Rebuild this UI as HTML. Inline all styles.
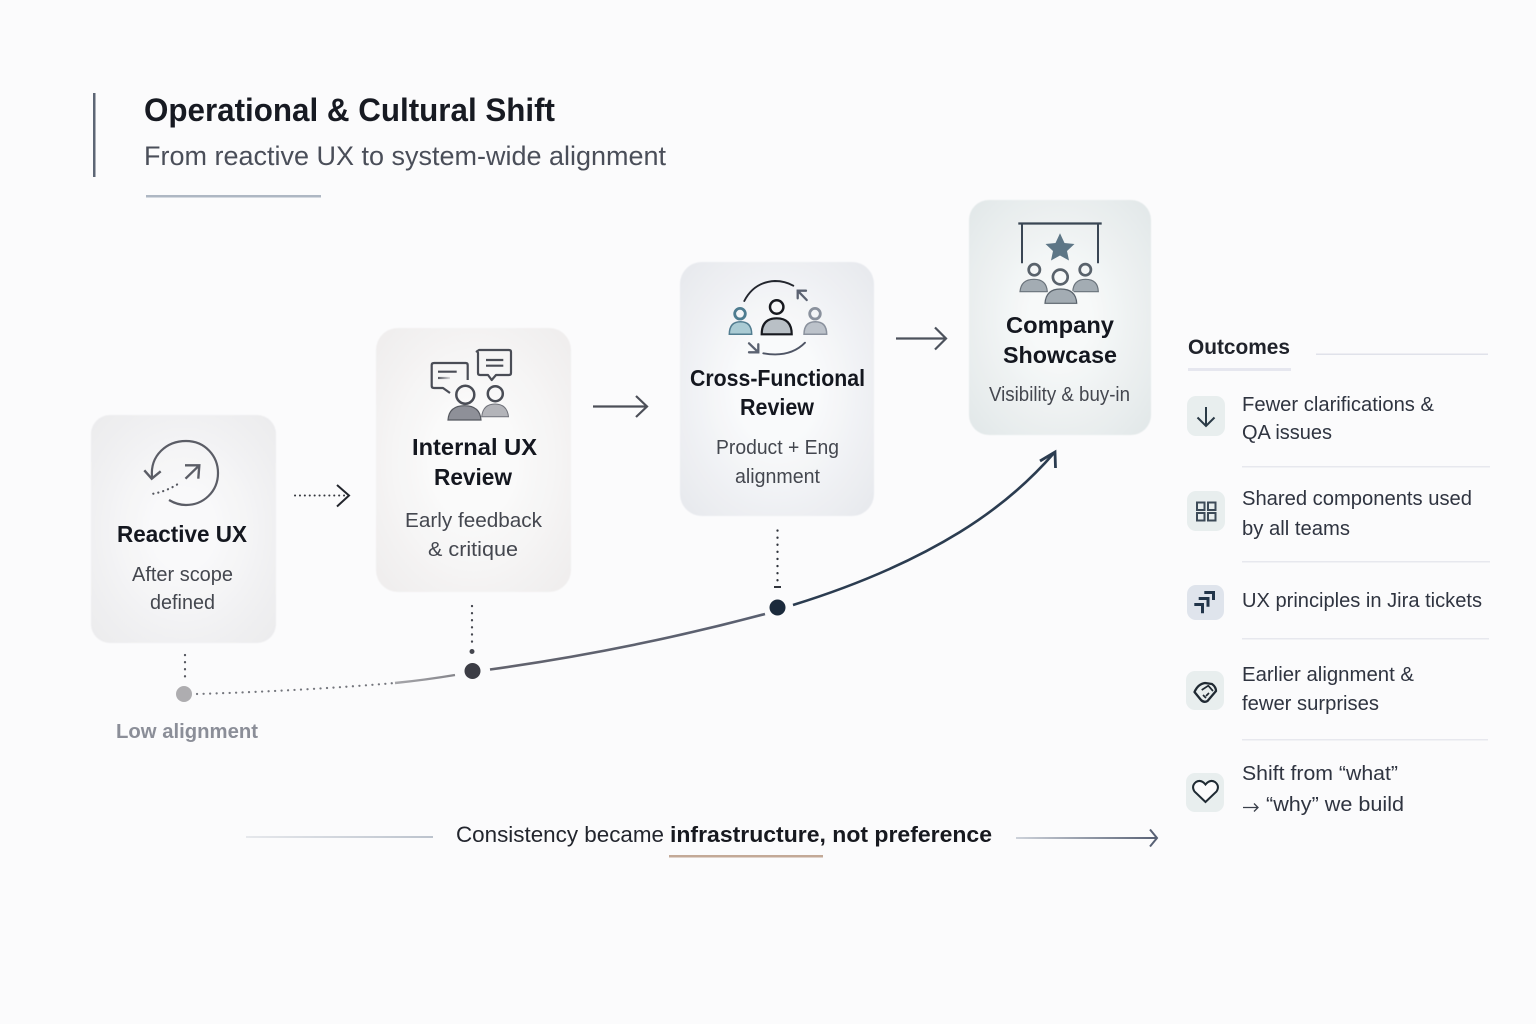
<!DOCTYPE html>
<html><head><meta charset="utf-8"><style>
html,body{margin:0;padding:0;background:#fbfbfc;width:1536px;height:1024px;overflow:hidden}
svg{display:block}
text{font-family:"Liberation Sans",sans-serif;fill:#3f434e;font-size:20px}
.h{font-weight:bold;fill:#14171f;font-size:23px}
.s{font-size:20px;fill:#44474f}
.o{font-size:20px;fill:#2f3440}
</style></head><body>
<svg width="1536" height="1024" viewBox="0 0 1536 1024" xmlns="http://www.w3.org/2000/svg">
<defs>
<radialGradient id="g1" cx=".5" cy=".5" r=".7"><stop offset="0.25" stop-color="#f9f9fa"/><stop offset="1" stop-color="#ebebed"/></radialGradient>
<radialGradient id="g2" cx=".5" cy=".5" r=".7"><stop offset="0.3" stop-color="#fafafa"/><stop offset="1" stop-color="#efeded"/></radialGradient>
<radialGradient id="g3" cx=".5" cy=".5" r=".7"><stop offset="0.3" stop-color="#f9fafb"/><stop offset="1" stop-color="#e6e8ed"/></radialGradient>
<radialGradient id="g4" cx=".5" cy=".5" r=".7"><stop offset="0.25" stop-color="#f7f9f9"/><stop offset="1" stop-color="#e1e7e8"/></radialGradient>
<linearGradient id="fade" gradientUnits="userSpaceOnUse" x1="390" y1="0" x2="455" y2="0"><stop offset="0" stop-color="#a9a9ad"/><stop offset="1" stop-color="#85858b"/></linearGradient>
<linearGradient id="c2" gradientUnits="userSpaceOnUse" x1="490" y1="0" x2="765" y2="0"><stop offset="0" stop-color="#62636e"/><stop offset="1" stop-color="#5a6070"/></linearGradient>
<linearGradient id="l1" x1="0" x2="1" y1="0" y2="0"><stop offset="0" stop-color="#e6e8ec"/><stop offset="1" stop-color="#bcc3cd"/></linearGradient>
<linearGradient id="l2" gradientUnits="userSpaceOnUse" x1="1016" y1="0" x2="1157" y2="0"><stop offset="0" stop-color="#cdd2da"/><stop offset="1" stop-color="#586175"/></linearGradient>
<linearGradient id="lf" gradientUnits="userSpaceOnUse" x1="438" y1="0" x2="450" y2="0"><stop offset="0" stop-color="#55575f"/><stop offset="1" stop-color="#d8d8da"/></linearGradient>
<filter id="soft" x="-5%" y="-5%" width="110%" height="110%"><feGaussianBlur stdDeviation="0.6"/></filter>
</defs>
<rect width="1536" height="1024" fill="#fbfbfc"/>

<!-- header -->
<rect x="93" y="93" width="2.500" height="84" fill="#5d6675"/>
<text x="144" y="121" style="font-size:32px;font-weight:bold;fill:#171a22" textLength="411" lengthAdjust="spacingAndGlyphs">Operational &amp; Cultural Shift</text>
<text x="144" y="165" style="font-size:27px;fill:#4a4e59" textLength="522" lengthAdjust="spacingAndGlyphs">From reactive UX to system-wide alignment</text>
<rect x="146" y="195" width="175" height="2.500" fill="#aeb7c3"/>

<!-- cards -->
<rect x="91" y="415" width="185" height="228" rx="19" fill="url(#g1)" filter="url(#soft)"/>
<rect x="376" y="328" width="195" height="264" rx="22" fill="url(#g2)" filter="url(#soft)"/>
<rect x="680" y="262" width="194" height="254" rx="22" fill="url(#g3)" filter="url(#soft)"/>
<rect x="969" y="200" width="182" height="235" rx="20" fill="url(#g4)" filter="url(#soft)"/>

<!-- card text -->
<text class="h" x="117" y="542" textLength="130" lengthAdjust="spacingAndGlyphs">Reactive UX</text>
<text class="s" x="132" y="581" textLength="101" lengthAdjust="spacingAndGlyphs">After scope</text>
<text class="s" x="150" y="609" textLength="65" lengthAdjust="spacingAndGlyphs">defined</text>

<text class="h" x="412" y="455" textLength="125" lengthAdjust="spacingAndGlyphs">Internal UX</text>
<text class="h" x="434" y="485" textLength="78" lengthAdjust="spacingAndGlyphs">Review</text>
<text class="s" x="405" y="527" textLength="137" lengthAdjust="spacingAndGlyphs">Early feedback</text>
<text class="s" x="428" y="556" textLength="90" lengthAdjust="spacingAndGlyphs">&amp; critique</text>

<text class="h" x="690" y="386" textLength="175" lengthAdjust="spacingAndGlyphs">Cross-Functional</text>
<text class="h" x="740" y="415" textLength="74" lengthAdjust="spacingAndGlyphs">Review</text>
<text class="s" x="716" y="454" textLength="123" lengthAdjust="spacingAndGlyphs">Product + Eng</text>
<text class="s" x="735" y="483" textLength="85" lengthAdjust="spacingAndGlyphs">alignment</text>

<text class="h" x="1006" y="333" textLength="108" lengthAdjust="spacingAndGlyphs">Company</text>
<text class="h" x="1003" y="363" textLength="114" lengthAdjust="spacingAndGlyphs">Showcase</text>
<text class="s" x="989" y="401" textLength="141" lengthAdjust="spacingAndGlyphs">Visibility &amp; buy-in</text>

<!-- icon 1 -->
<g fill="none" stroke="#5b5d66" stroke-width="2.200">
<path d="M152 477 C150 455 167 441 186 441 C205 441 218 456 218 473 C218 492 203 505 186 505 C180 505 174 503 169 500"/>
<path d="M144.300 470.300 L151.700 478.700 L160.700 471.300" stroke-width="2.400"/>
<path d="M153.300 493.700 Q168 491 181 482" stroke-dasharray="0.100 5" stroke-linecap="round" stroke-width="2.200" stroke="#55575f"/>
<path d="M185 465.300 H199.300 L198.300 478.700 M199.300 465.300 L185.500 478.700" stroke-width="2.400"/>
</g>

<!-- icon 2 -->
<g fill="none" stroke="#4a4d56" stroke-width="2.200" stroke-linejoin="round">
<path d="M467.700 380 V365 Q467.700 363 465.700 363 H434 Q431.700 363 431.700 365 V386 Q431.700 388 434 388 H443 L450 393"/>
<path d="M438 371.700 H456.700"/>
<path d="M438 378 H450" stroke="url(#lf)"/>
<path d="M479 350 H509 Q511 350 511 352 V373 Q511 375 509 375 H496 L491.700 380 L488 375 H480 Q478 375 478 373 V353 Q478 352 476.700 351.500 Z"/>
<path d="M486 360 H503.300 M486 365.700 H503.300"/>
<circle cx="465.300" cy="394.700" r="9" stroke-width="2.500"/>
<circle cx="495.300" cy="393.700" r="7.500" stroke-width="2.500"/>
</g>
<path d="M481.700 416.700 Q483 404 495 404 Q507 404 508.500 416.700 Z" fill="#b3b4b9" stroke="#70727a" stroke-width="1"/>
<path d="M448 420 Q449 405.700 464.500 405.700 Q480 405.700 481 420 Z" fill="#8e9098" stroke="#55585f" stroke-width="1.200"/>

<!-- icon 3 -->
<g fill="none" stroke-linecap="round">
<path d="M744.300 301 Q754 282 775 281 Q785 281 793.300 285.700" stroke="#23262e" stroke-width="1.900"/>
<path d="M797.700 298.300 V290.700 H806 M797.700 290.700 L806.700 300" stroke="#5b6271" stroke-width="2.300"/>
<path d="M763.300 353.300 Q790 358 805 342.700" stroke="#4f5565" stroke-width="1.900"/>
<path d="M749 343.300 L758.300 352.300 M758.300 344.300 V352.300 H749" stroke="#5b6271" stroke-width="2.300"/>
<circle cx="776.700" cy="307" r="6.700" stroke="#17191f" stroke-width="2.500"/>
<circle cx="740" cy="313.700" r="5.300" stroke="#4e7c90" stroke-width="2.800"/>
<circle cx="815" cy="313.700" r="5.300" stroke="#8a919d" stroke-width="2.800"/>
</g>
<path d="M761.700 334.300 Q761.700 318.300 776.700 318.300 Q791.700 318.300 791.700 334.300 Z" fill="#b9c0c6" stroke="#17191f" stroke-width="2.200"/>
<path d="M729.300 334.300 Q729.300 321.700 740.500 321.700 Q751.700 321.700 751.700 334.300 Z" fill="#aacbd4" stroke="#527d90" stroke-width="1.500"/>
<path d="M804 334.300 Q804 321.700 815.300 321.700 Q826.700 321.700 826.700 334.300 Z" fill="#bcc2ca" stroke="#8a919d" stroke-width="1.500"/>

<!-- icon 4 -->
<path d="M1018.300 223.500 H1101.700" stroke="#3a4654" stroke-width="2.200" fill="none"/>
<path d="M1022 223 V263.300 M1098 223 V263.300" stroke="#3a4654" stroke-width="2" fill="none"/>
<path d="M1060 233.300 L1064.500 243 L1074.500 244 L1067 251 L1069 260.500 L1060 255.500 L1051 260.500 L1053 251 L1045.500 244 L1055.500 243 Z" fill="#5d7686"/>
<g fill="none" stroke="#59626b" stroke-width="2.700">
<circle cx="1034.300" cy="269.700" r="5.600"/><circle cx="1060.300" cy="277" r="7.400"/><circle cx="1085.300" cy="269.700" r="5.600"/>
</g>
<path d="M1020 291.700 Q1021 279.300 1034 279.300 Q1046.500 279.300 1047.300 291.700 Z" fill="#a3acb3" stroke="#6a737b" stroke-width="1.200"/>
<path d="M1072.700 291.700 Q1073.500 279.300 1085.500 279.300 Q1098 279.300 1098.300 291.700 Z" fill="#a3acb3" stroke="#6a737b" stroke-width="1.200"/>
<path d="M1045 303.300 Q1046 289 1060.500 289 Q1076 289 1076.700 303.300 Z" fill="#a3acb3" stroke="#f2f5f5" stroke-width="3"/>
<path d="M1045 303.300 Q1046 289 1060.500 289 Q1076 289 1076.700 303.300 Z" fill="#a3acb3" stroke="#59626b" stroke-width="1.200"/>

<!-- flow arrows -->
<path d="M295 495.500 H345" stroke="#33363d" stroke-width="2" stroke-dasharray="0.100 4.800" stroke-linecap="round" fill="none"/>
<path d="M337 485 L349 495.500 L337 506.500" stroke="#22252c" stroke-width="2" fill="none"/>
<path d="M593 406.500 H646" stroke="#4c4f58" stroke-width="2.200" fill="none"/>
<path d="M636 396 L647 406.500 L636 417" stroke="#4c4f58" stroke-width="2.200" fill="none"/>
<path d="M896 338.500 H946" stroke="#4c525c" stroke-width="2.200" fill="none"/>
<path d="M935 327.500 L946 338.500 L935 349.500" stroke="#4c525c" stroke-width="2.200" fill="none"/>

<!-- vertical dotted -->
<path d="M185 655 V678" stroke="#55575f" stroke-width="2.300" stroke-dasharray="0.100 7" stroke-linecap="round" fill="none"/>
<path d="M472 606 V646" stroke="#45474f" stroke-width="2.300" stroke-dasharray="0.100 7" stroke-linecap="round" fill="none"/>
<circle cx="472" cy="651.500" r="2.500" fill="#45474f"/>
<path d="M777.500 530.500 V582" stroke="#30343c" stroke-width="2.300" stroke-dasharray="0.100 7" stroke-linecap="round" fill="none"/>
<path d="M774 587 H781" stroke="#30343c" stroke-width="2" fill="none"/>

<!-- curve -->
<path d="M197 694 Q300 691 395 683" stroke="#74767d" stroke-width="2.200" stroke-dasharray="0.100 6.400" stroke-linecap="round" fill="none"/>
<path d="M395 683 Q425 680 455 675" stroke="url(#fade)" stroke-width="2.400" fill="none"/>
<path d="M490 669.500 Q630 650 765 614" stroke="url(#c2)" stroke-width="2.600" fill="none"/>
<path d="M793 605 Q890 575 960 532 Q1015 498 1054 453" stroke="#2b3c50" stroke-width="2.600" fill="none"/>
<path d="M1040 461 L1055 452 L1055.500 468" stroke="#2b3c50" stroke-width="2.800" fill="none"/>

<circle cx="184" cy="694" r="8" fill="#aeadb0"/>
<circle cx="472.500" cy="671" r="8" fill="#3c3d45"/>
<circle cx="777.500" cy="607.500" r="8" fill="#1b2a3c"/>

<text x="116" y="738" style="font-size:20px;font-weight:bold;fill:#8b8e98" textLength="142" lengthAdjust="spacingAndGlyphs">Low alignment</text>

<!-- outcomes -->
<text x="1188" y="354" style="font-size:21px;font-weight:bold;fill:#20232b" textLength="102" lengthAdjust="spacingAndGlyphs">Outcomes</text>
<rect x="1188" y="368" width="103" height="3" fill="#e6e7ef"/>
<rect x="1316" y="353.500" width="172" height="1.500" fill="#e0e2ea"/>

<rect x="1187" y="396" width="38" height="40" rx="9" fill="#e8eeee"/>
<path d="M1206 407 V426 M1197.500 417.500 L1206 426 L1214.500 417.500" stroke="#2a3a46" stroke-width="2" fill="none"/>
<rect x="1187" y="491" width="38" height="40" rx="9" fill="#e8eeee"/>
<g fill="none" stroke="#3d4b58" stroke-width="2"><rect x="1197" y="502.500" width="7.500" height="7.500"/><rect x="1208" y="502.500" width="7.500" height="7.500"/><rect x="1197" y="513" width="7.500" height="7.500"/><rect x="1208" y="513" width="7.500" height="7.500"/></g>
<rect x="1187" y="585" width="37" height="35" rx="9" fill="#dfe4ec"/>
<g fill="none" stroke="#22354a" stroke-width="3"><path d="M1204.300 592.500 H1213.500 V600"/><path d="M1198.700 598.500 H1208 V606.700"/><path d="M1194.300 604.500 H1202.500 V613.300"/></g>
<rect x="1186" y="671" width="38" height="39" rx="9" fill="#e8eeee"/>
<g fill="none" stroke="#202a33" stroke-width="2.300" stroke-linejoin="round"><path d="M1194.500 692 Q1198 684 1205 683 L1212 684 Q1216 687 1216 691 L1207.500 701 Q1204 703 1201 700 Z"/><path d="M1201.700 690 L1208.300 685.700 L1213 691 M1209 693 L1206 696 M1206 698 L1203 695" stroke-width="1.700"/></g>
<rect x="1186" y="773" width="38" height="39" rx="9" fill="#e8eeee"/>
<path d="M1205.500 802 L1194.500 791.500 Q1191 786 1196 782 Q1201 779 1205.500 784.500 Q1210 779 1215 782 Q1220 786 1216.500 791.500 Z" fill="#fbfbfc" stroke="#1f2a33" stroke-width="2"/>

<text class="o" x="1242" y="411" textLength="192" lengthAdjust="spacingAndGlyphs">Fewer clarifications &amp;</text>
<text class="o" x="1242" y="439" textLength="90" lengthAdjust="spacingAndGlyphs">QA issues</text>
<rect x="1242" y="466" width="248" height="1.500" fill="#e7e8ee"/>
<text class="o" x="1242" y="505" textLength="230" lengthAdjust="spacingAndGlyphs">Shared components used</text>
<text class="o" x="1242" y="535" textLength="108" lengthAdjust="spacingAndGlyphs">by all teams</text>
<rect x="1242" y="561" width="248" height="1.500" fill="#e7e8ee"/>
<text class="o" x="1242" y="607" textLength="240" lengthAdjust="spacingAndGlyphs">UX principles in Jira tickets</text>
<rect x="1242" y="638" width="247" height="1.500" fill="#e7e8ee"/>
<text class="o" x="1242" y="681" textLength="172" lengthAdjust="spacingAndGlyphs">Earlier alignment &amp;</text>
<text class="o" x="1242" y="710" textLength="137" lengthAdjust="spacingAndGlyphs">fewer surprises</text>
<rect x="1242" y="739" width="246" height="1.500" fill="#e7e8ee"/>
<text class="o" x="1242" y="780" textLength="156" lengthAdjust="spacingAndGlyphs">Shift from “what”</text>
<path d="M1243 807.500 H1258 M1254 803.500 L1258 807.500 L1254 811.500" stroke="#3a3f4a" stroke-width="1.300" fill="none"/>
<text class="o" x="1266" y="811" textLength="138" lengthAdjust="spacingAndGlyphs">“why” we build</text>

<!-- bottom -->
<rect x="246" y="836" width="187" height="2" fill="url(#l1)"/>
<text x="456" y="842" style="font-size:22px;fill:#22252d" textLength="208" lengthAdjust="spacingAndGlyphs">Consistency became</text>
<text x="670" y="842" style="font-size:22px;font-weight:bold;fill:#17191f" textLength="322" lengthAdjust="spacingAndGlyphs">infrastructure, not preference</text>
<rect x="669" y="855" width="154" height="2.500" fill="#c3a997"/>
<path d="M1016 838 H1156" stroke="url(#l2)" stroke-width="2" fill="none"/>
<path d="M1150 829.500 L1157 838 L1150 846.500" stroke="#586175" stroke-width="2" fill="none"/>
</svg>
</body></html>
